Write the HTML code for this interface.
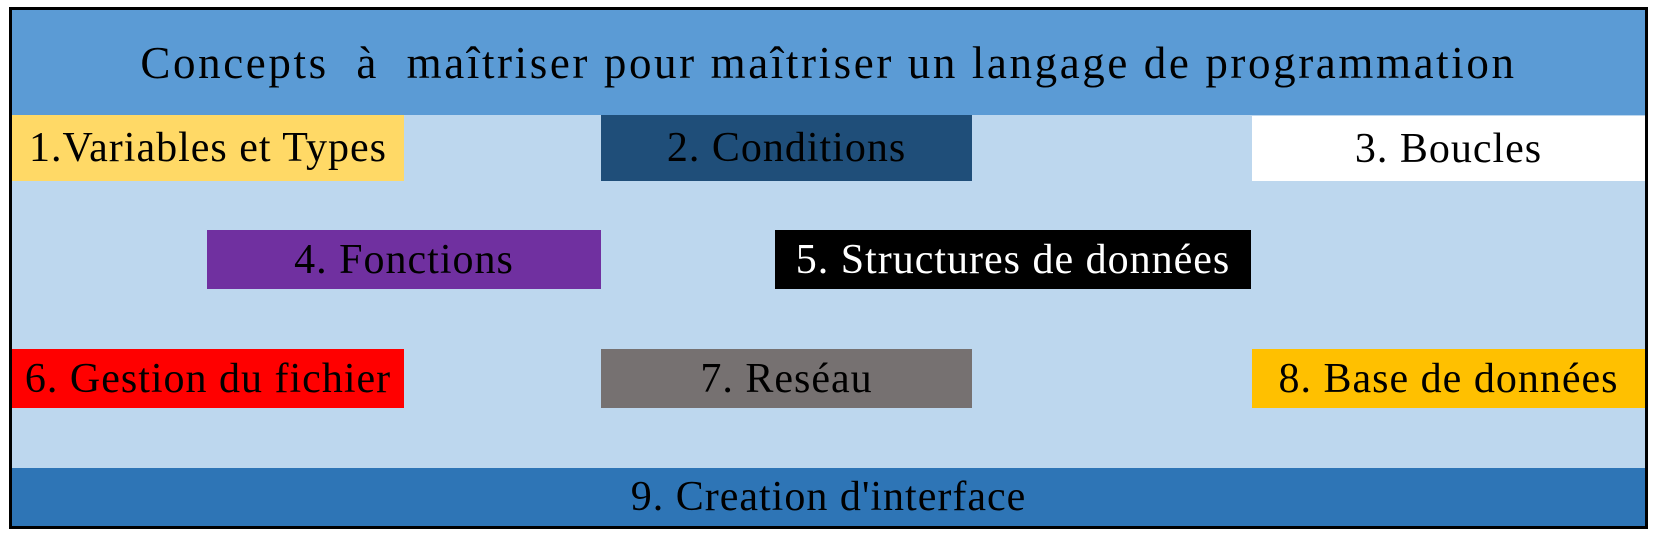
<!DOCTYPE html>
<html><head><meta charset="utf-8"><style>
body{margin:0;width:1656px;height:535px;background:#fff;position:relative;overflow:hidden;font-family:"Liberation Serif",serif;}
.f{position:absolute;left:9px;top:7px;width:1633px;height:516px;border:3px solid #000;background:#bdd7ee;}
.b{position:absolute;display:flex;align-items:center;justify-content:center;font-size:42px;color:#000;white-space:nowrap;letter-spacing:1px}
</style></head><body>
<div class="f"></div>
<div class="b" style="left:12px;top:10px;width:1633px;height:105px;background:#5b9bd5;font-size:45px;letter-spacing:2.6px">Concepts&nbsp; à&nbsp; maîtriser pour maîtriser un langage de programmation</div>
<div class="b" style="left:12px;top:115px;width:392px;height:66px;background:#ffd966">1.Variables et Types</div>
<div class="b" style="left:601px;top:115px;width:371px;height:66px;background:#1f4e79">2. Conditions</div>
<div class="b" style="left:1252px;top:116px;width:393px;height:65px;background:#fff">3. Boucles</div>
<div class="b" style="left:207px;top:230px;width:394px;height:59px;background:#7030a0">4. Fonctions</div>
<div class="b" style="left:775px;top:230px;width:476px;height:59px;background:#000;color:#fff">5. Structures de données</div>
<div class="b" style="left:12px;top:349px;width:392px;height:59px;background:#ff0000">6. Gestion du fichier</div>
<div class="b" style="left:601px;top:349px;width:371px;height:59px;background:#767171">7. Reséau</div>
<div class="b" style="left:1252px;top:349px;width:393px;height:59px;background:#ffc000">8. Base de données</div>
<div class="b" style="left:12px;top:468px;width:1633px;height:58px;background:#2e75b6">9. Creation d'interface</div>
</body></html>
